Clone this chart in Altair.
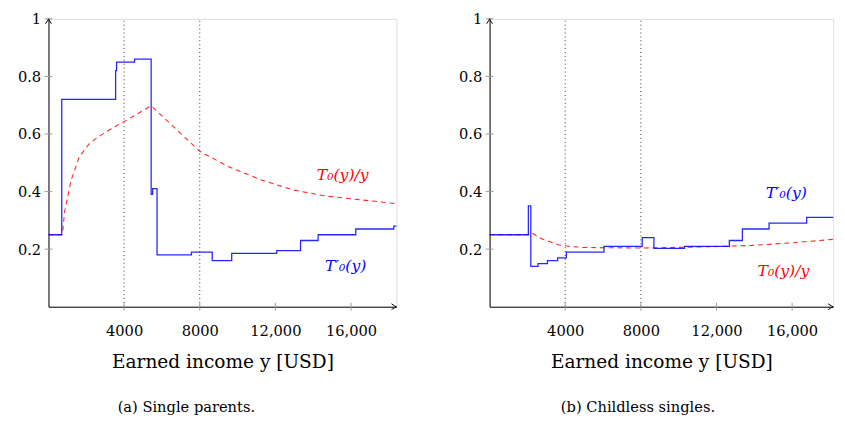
import altair as alt
import pandas as pd

# ---------------- data ----------------
# (a) Single parents
a_step_x = [0, 700, 3550, 3600, 4550, 5430, 5510, 5740, 7560, 8660, 9690, 12070, 13330, 14260, 16250, 18260, 18400]
a_step_y = [0.25, 0.72, 0.82, 0.85, 0.86, 0.39, 0.41, 0.18, 0.19, 0.16, 0.185, 0.195, 0.23, 0.25, 0.27, 0.28, 0.28]
a_avg_x = [0, 700, 765, 850, 1200, 1625, 2140, 2620, 3000, 3550, 4000, 5430, 6620, 8000, 9500, 11260, 12980, 14700, 16420, 18400]
a_avg_y = [0.25, 0.25, 0.27, 0.33, 0.44, 0.52, 0.565, 0.59, 0.605, 0.627, 0.643, 0.698, 0.625, 0.54, 0.487, 0.44, 0.405, 0.384, 0.372, 0.358]

# (b) Childless singles
b_step_x = [0, 2050, 2180, 2560, 3060, 3600, 4060, 6050, 8070, 8690, 10310, 12680, 13370, 14780, 16770, 18170]
b_step_y = [0.25, 0.35, 0.14, 0.15, 0.16, 0.17, 0.19, 0.21, 0.24, 0.203, 0.21, 0.23, 0.27, 0.29, 0.31, 0.31]
b_avg_x = [0, 2050, 2180, 2790, 3650, 4160, 4940, 6000, 8000, 10000, 12000, 13880, 16000, 18170]
b_avg_y = [0.25, 0.25, 0.258, 0.235, 0.215, 0.21, 0.206, 0.205, 0.204, 0.206, 0.209, 0.213, 0.222, 0.234]

x_ticks = [4000, 8000, 12000, 16000]
y_ticks = [0.2, 0.4, 0.6, 0.8, 1.0]
ref_lines = [4000, 8000]

label_marginal = "T′₀(y)"
label_average = "T₀(y)/y"
a_label_pos = {"avg": (15560, 0.458), "marg": (15720, 0.142)}
b_label_pos = {"avg": (15540, 0.122), "marg": (15690, 0.395)}

captions = ["(a) Single parents.", "(b) Childless singles."]
x_title = "Earned income y [USD]"

FONT = "DejaVu Serif"
BLUE = "#0000ff"
RED = "#ff0000"
H = 295
PX_PER_UNIT = 77.5 / 4000


def panel(step_x, step_y, avg_x, avg_y, xmax, label_pos, caption, dx):
    W = xmax * PX_PER_UNIT
    xs = alt.Scale(domain=[0, xmax], nice=False, zero=False)
    ys = alt.Scale(domain=[0, 1], nice=False, zero=False)
    x_axis = alt.Axis(
        values=x_ticks,
        labelExpr="datum.value >= 10000 ? format(datum.value, ',') : format(datum.value, 'd')",
        ticks=False, grid=False, domainColor="black", domainWidth=1,
        labelFont=FONT, labelFontSize=15, labelColor="black", labelPadding=17,
        title=x_title, titleFont=FONT, titleFontSize=19, titleFontWeight="normal",
        titleColor="black", titlePadding=15,
    )
    y_axis = alt.Axis(
        values=y_ticks,
        labelExpr="datum.value == 1 ? '1' : format(datum.value, '.1f')",
        ticks=False, grid=False, domainColor="black", domainWidth=1,
        labelFont=FONT, labelFontSize=15, labelColor="black", labelPadding=8,
        title=None,
    )

    step_df = pd.DataFrame({"x": step_x, "y": step_y})
    avg_df = pd.DataFrame({"x": avg_x, "y": avg_y})

    base_axes = alt.Chart(pd.DataFrame({"x": [0], "y": [0]})).mark_point(opacity=0).encode(
        x=alt.X("x:Q", scale=xs, axis=x_axis),
        y=alt.Y("y:Q", scale=ys, axis=y_axis),
    )

    vlines = alt.Chart(pd.DataFrame({"x": ref_lines})).mark_rule(
        color="#333333", strokeDash=[1, 3], strokeWidth=1
    ).encode(x=alt.X("x:Q", scale=xs), y=alt.value(2), y2=alt.value(H))

    xt = alt.Chart(pd.DataFrame({"x": x_ticks})).mark_rule(color="#999999", strokeWidth=1).encode(
        x=alt.X("x:Q", scale=xs), y=alt.value(H - 4), y2=alt.value(H + 4)
    )
    yt = alt.Chart(pd.DataFrame({"y": y_ticks})).mark_rule(color="#999999", strokeWidth=1).encode(
        y=alt.Y("y:Q", scale=ys), x=alt.value(-4), x2=alt.value(4)
    )

    avg_line = alt.Chart(avg_df).mark_line(
        color=RED, strokeDash=[5, 4], strokeWidth=1.1, opacity=0.85
    ).encode(x=alt.X("x:Q", scale=xs), y=alt.Y("y:Q", scale=ys))

    step_line = alt.Chart(step_df).mark_line(
        color=BLUE, interpolate="step-after", strokeWidth=1.3, opacity=0.85
    ).encode(x=alt.X("x:Q", scale=xs), y=alt.Y("y:Q", scale=ys))

    lab_df = pd.DataFrame({
        "x": [label_pos["avg"][0], label_pos["marg"][0]],
        "y": [label_pos["avg"][1], label_pos["marg"][1]],
        "t": [label_average, label_marginal],
        "c": [RED, BLUE],
    })
    labels = alt.Chart(lab_df).mark_text(
        font=FONT, fontSize=16, fontStyle="italic"
    ).encode(
        x=alt.X("x:Q", scale=xs), y=alt.Y("y:Q", scale=ys), text="t:N",
        color=alt.Color("c:N", scale=None),
    )

    arrow_r = alt.Chart(pd.DataFrame({"x": [xmax], "y": [0]})).mark_point(
        shape="M -1 -0.6 Q -0.3 -0.1 0 0 Q -0.3 0.1 -1 0.6",
        size=100, filled=False, stroke="black", strokeWidth=1, opacity=1,
    ).encode(x=alt.X("x:Q", scale=xs), y=alt.Y("y:Q", scale=ys))
    arrow_u = alt.Chart(pd.DataFrame({"x": [0], "y": [1]})).mark_point(
        shape="M -0.6 1 Q -0.1 0.3 0 0 Q 0.1 0.3 0.6 1",
        size=100, filled=False, stroke="black", strokeWidth=1, opacity=1,
    ).encode(x=alt.X("x:Q", scale=xs), y=alt.Y("y:Q", scale=ys))

    return alt.layer(
        base_axes, vlines, xt, yt, avg_line, step_line, labels, arrow_r, arrow_u
    ).properties(
        width=W, height=H,
        title=alt.TitleParams(
            caption, orient="bottom", font=FONT, fontSize=15, fontWeight="normal",
            color="black", offset=30, dx=dx, anchor="middle",
        ),
    )


left = panel(a_step_x, a_step_y, a_avg_x, a_avg_y, 18400, a_label_pos, captions[0], -37)
right = panel(b_step_x, b_step_y, b_avg_x, b_avg_y, 18170, b_label_pos, captions[1], -24)

chart = alt.hconcat(left, right, spacing=95, bounds="flush").properties(
    padding={"left": 8.5, "top": -2, "right": 0, "bottom": 0}
).configure_view(stroke=None).configure(background="white")

chart.save("out.html", embed_options={"renderer": "svg", "actions": False})
